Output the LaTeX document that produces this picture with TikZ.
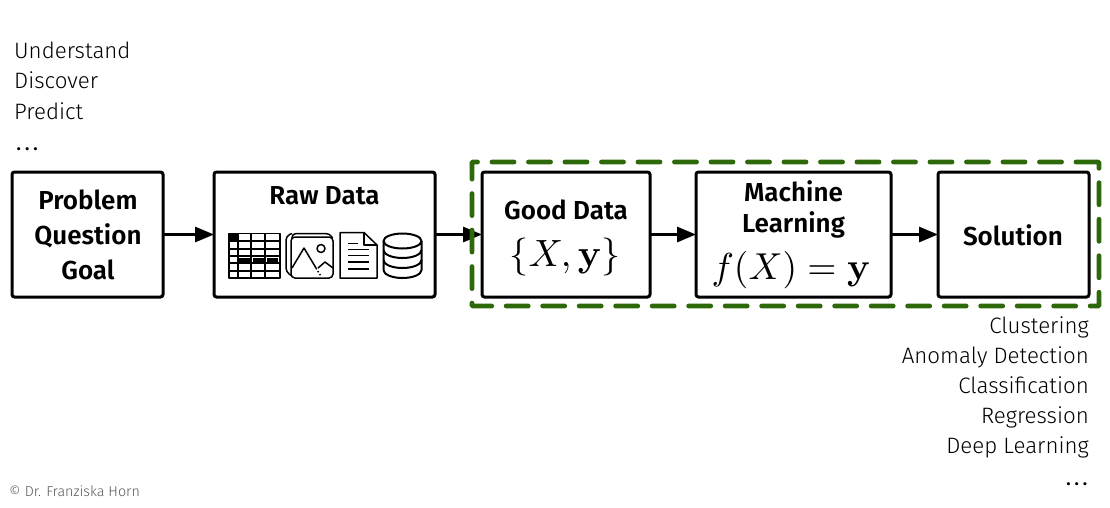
\documentclass[tikz,border=0pt]{standalone}
\usepackage[no-math]{fontspec}
\setmainfont{Fira Sans Light}
\newfontfamily\boxfont{Fira Sans SemiBold}
\newfontfamily\dotfont{Fira Sans}
\usetikzlibrary{arrows.meta}
\newcommand{\sparsedots}{{\dotfont.\kern3pt.\kern3pt.}}
\tikzset{
 box/.style={draw=black,line width=3pt,rounded corners=2.5pt,fill=white,inner sep=0pt,outer sep=0pt,anchor=north west},
 boxtext/.style={font=\fontsize{26}{35}\selectfont\boxfont,align=center,text=black,inner sep=0pt},
 mathtext/.style={inner sep=0pt,text=black},
 sidetext/.style={font=\fontsize{22.3}{30.2}\selectfont,inner sep=0pt,text=black},
 conn/.style={line width=3pt,-{Triangle[length=19pt,width=15pt]}},
 icon/.style={line width=1.5pt,draw=black,line join=round},
 frame/.style={draw={rgb,255:red,45;green,105;blue,10},line width=4.8pt,rounded corners=1pt,dash pattern=on 22pt off 14.5pt,line cap=round}
}
\begin{document}
\begin{tikzpicture}[x=1pt,y=-1pt]
\useasboundingbox (0,0) rectangle (1110,507);
% boxes
\node[box,minimum width=151pt,minimum height=125pt] (problem) at (12,172) {};
\node[box,minimum width=221pt,minimum height=125pt] (raw) at (214,172) {};
\node[box,minimum width=168pt,minimum height=125pt] (good) at (482,172) {};
\node[box,minimum width=195pt,minimum height=125pt] (ml) at (696,172) {};
\node[box,minimum width=151pt,minimum height=125pt] (sol) at (938,172) {};
% connectors
\draw[conn] (problem.east) -- (raw.west);
\draw[conn] (raw.east) -- (good.west);
\draw[conn] (good.east) -- (ml.west);
\draw[conn] (ml.east) -- (sol.west);
% dashed frame
\node[frame,anchor=north west,minimum width=627pt,minimum height=144pt,inner sep=0pt,outer sep=0pt] (dash) at (472,162) {};
% box texts
\node[boxtext] (t1) at (88,235) {Problem\\Question\\Goal};
\node[boxtext] (t2) at (324.5,196) {Raw Data};
\node[boxtext] (t3) at (566,210) {Good Data};
\node[mathtext] (m1) at (565,256.5) {\scalebox{3.8}{$\{X,\mathbf{y}\}$}};
\node[boxtext,font=\fontsize{26}{31}\selectfont\boxfont] (t4) at (793.5,209) {Machine\\Learning};
\node[mathtext] (m2) at (791,270.5) {\scalebox{3.75}{$f(X)=\mathbf{y}$}};
\node[boxtext] (t5) at (1013,235) {Solution};
% side texts
\node[sidetext,anchor=north west,align=left] (s1) at (14,42) {Understand\\Discover\\Predict\\[1pt]\strut\kern2pt\sparsedots};
\node[sidetext,anchor=north east,align=right] (s2) at (1089,316) {Clustering\\Anomaly Detection\\Classification\\Regression\\Deep Learning\\[1pt]\strut\sparsedots\kern1pt};
\node[anchor=west,inner sep=0pt,text=black!65,font=\fontsize{14.3}{15}\selectfont] (c) at (9,491.5) {© Dr. Franziska Horn};
% table icon
\begin{scope}[icon]
\draw (229,233.5) rectangle (280,278);
\fill (229,233.5) rectangle (238,241);
\foreach \x in {238,251,265} \draw (\x,233.5) -- (\x,278);
\foreach \y in {241,249,256,263,271} \draw (229,\y) -- (280,\y);
\foreach \x in {239,253,267} \fill (\x,258) rectangle +(11,3.5);
% image icon
\draw[rounded corners=4pt] (292,240) -- (292,233.5) -- (330,233.5) -- (332.5,238);
\draw[rounded corners=4pt] (292,233.5) -- (286,236) -- (286,272) -- (292,276);
\draw[rounded corners=4pt,fill=white] (291,237) rectangle (333,278);
\draw (292,268) -- (304,248) -- (316,268);
\draw[dotted] (316,268) -- (319.5,274);
\draw (318,268) -- (325,262) -- (333,268);
\draw (321,248.5) circle (4pt);
\fill (320,274.5) circle (1pt);
% document icon
\draw (340,232.5) -- (364,232.5) -- (377,245) -- (377,278) -- (340,278) -- cycle;
\draw (364,232.5) -- (364,245) -- (377,245);
\foreach \y/\a/\b in {243.5/348/358,249.5/348/369,255.5/348/369,262/348/369,269/348/369} \draw (\a,\y) -- (\b,\y);
% database icon
\begin{scope}[line width=2pt]
\draw (383.5,241) -- (383.5,270) arc[start angle=180,end angle=360,x radius=19pt,y radius=8pt] -- (421.5,241);
\draw (402.5,241) ellipse (19pt and 7.5pt);
\draw (383.5,250) arc[start angle=180,end angle=360,x radius=19pt,y radius=8pt];
\draw (383.5,260) arc[start angle=180,end angle=360,x radius=19pt,y radius=8pt];
\end{scope}
\end{scope}
\end{tikzpicture}
\end{document}
